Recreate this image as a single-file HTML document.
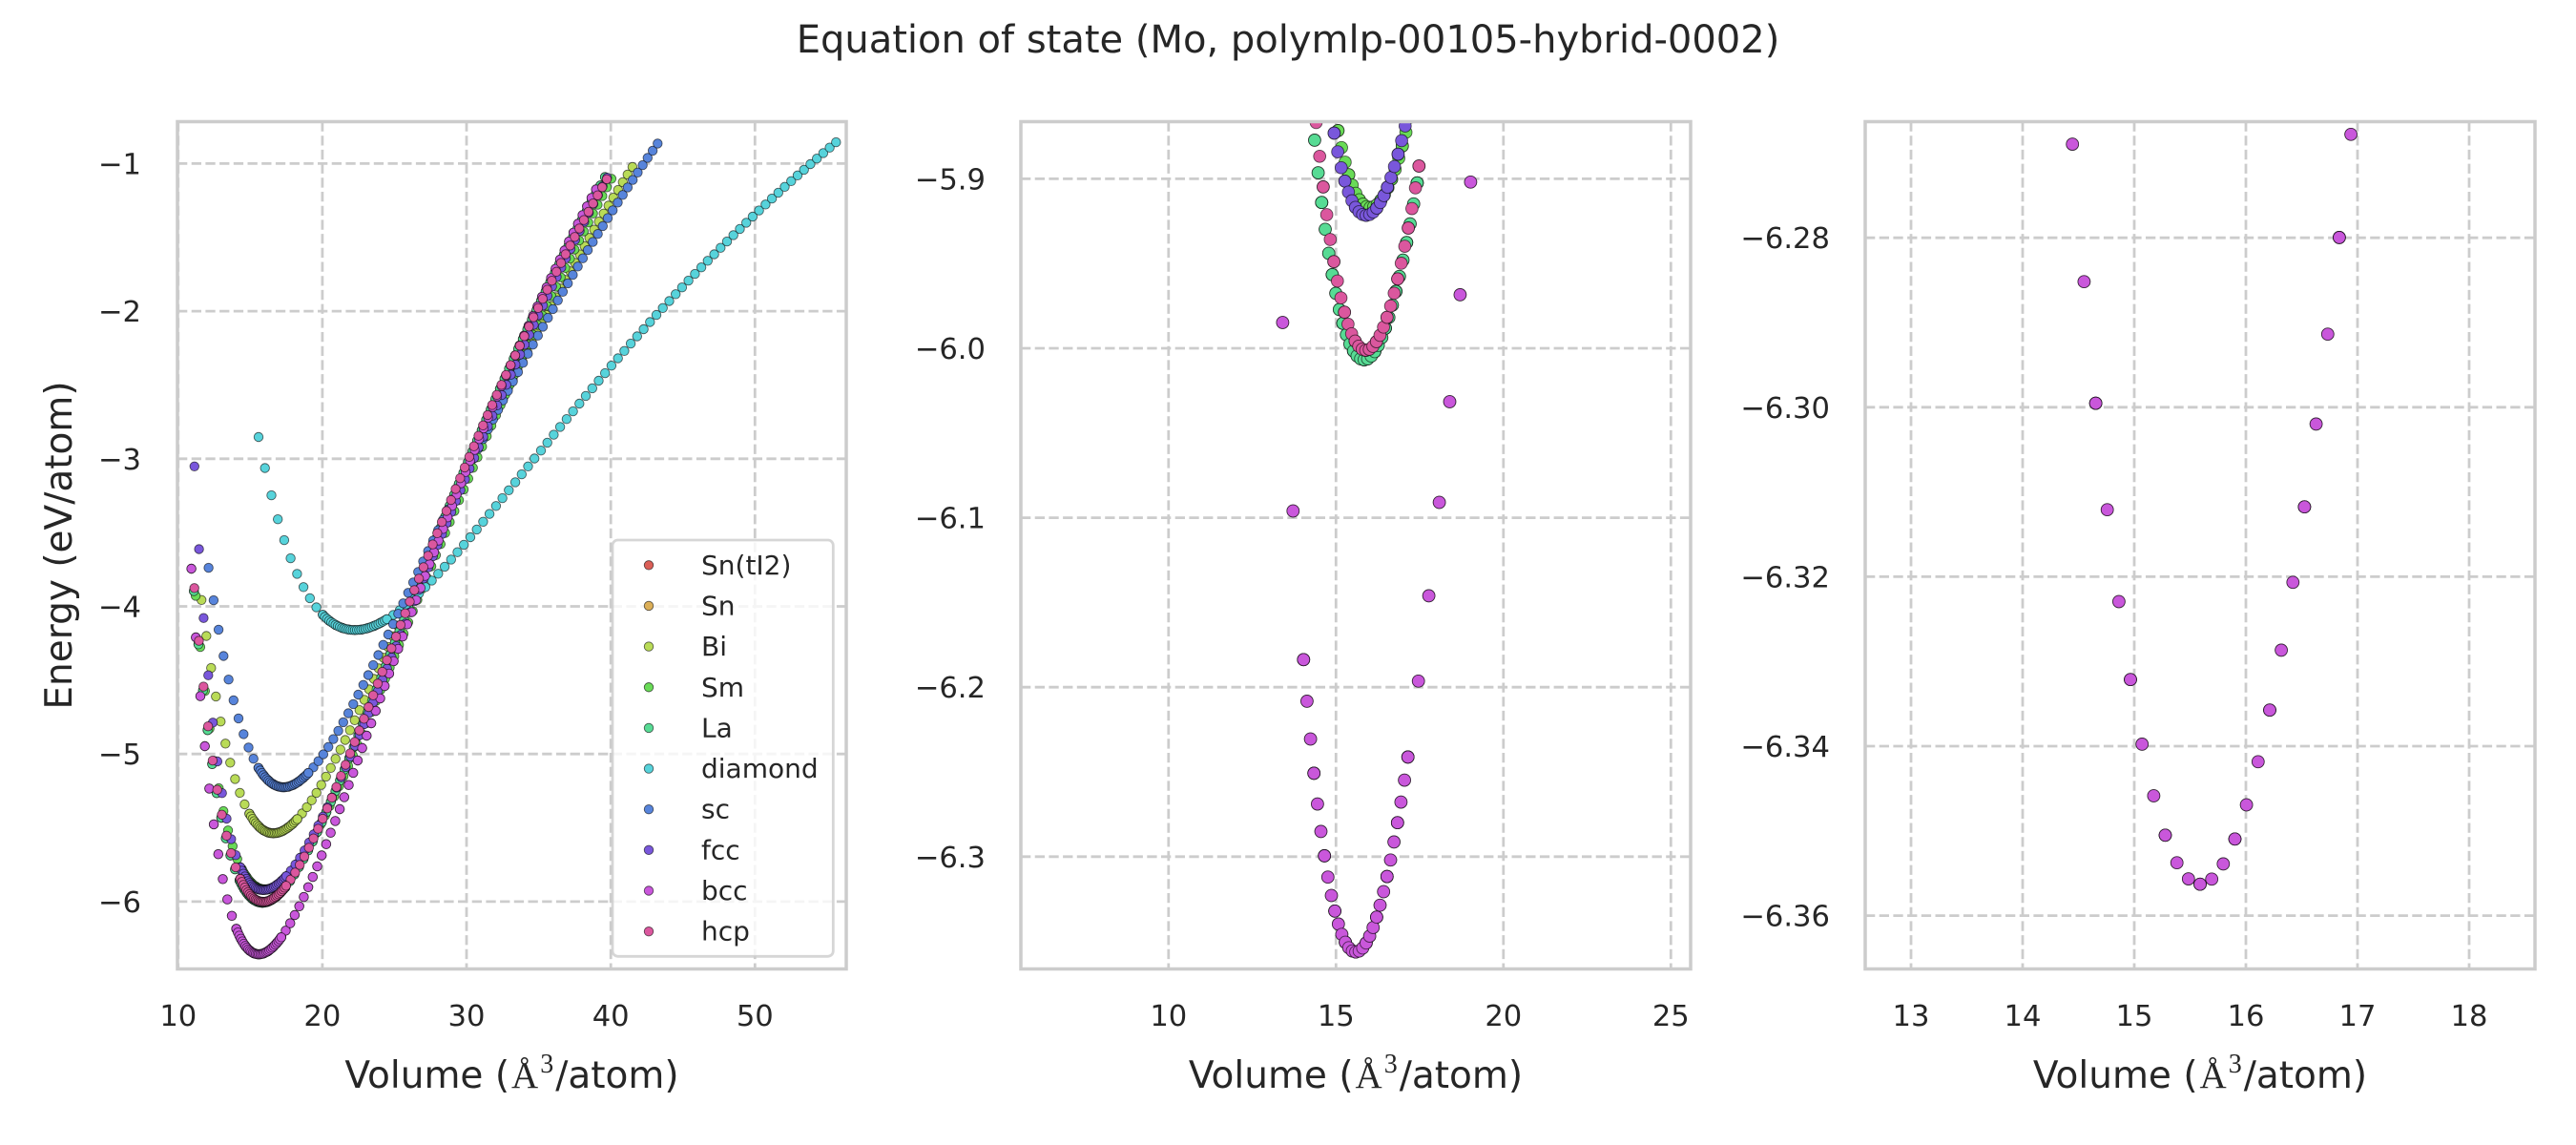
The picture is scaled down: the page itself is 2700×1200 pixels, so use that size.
<!DOCTYPE html>
<html>
<head>
<meta charset="utf-8">
<style>
html,body{margin:0;padding:0;background:#fff;}
svg{display:block;}
text{font-family:"DejaVu Sans","Liberation Sans",sans-serif;fill:#262626;}
</style>
</head>
<body>
<svg width="2700" height="1200" viewBox="0 0 2700 1200">
<rect x="0" y="0" width="2700" height="1200" fill="#fff"/>
<defs>
<clipPath id="c1"><rect x="186" y="127.5" width="701" height="888"/></clipPath>
<clipPath id="c2"><rect x="1070" y="127.5" width="702" height="888"/></clipPath>
<clipPath id="c3"><rect x="1955" y="127.5" width="702" height="888"/></clipPath>
</defs>

<!-- Title -->
<text x="1350" y="55" text-anchor="middle" font-size="40">Equation of state (Mo, polymlp-00105-hybrid-0002)</text>

<!-- ===== Panel 1 grid ===== -->
<g stroke="#cccccc" stroke-width="2.78" stroke-dasharray="10.3,4.4" fill="none">
<line x1="186.8" y1="127.5" x2="186.8" y2="1015.5"/>
<line x1="337.9" y1="127.5" x2="337.9" y2="1015.5"/>
<line x1="489.0" y1="127.5" x2="489.0" y2="1015.5"/>
<line x1="640.2" y1="127.5" x2="640.2" y2="1015.5"/>
<line x1="791.3" y1="127.5" x2="791.3" y2="1015.5"/>
<line x1="186" y1="171.4" x2="887" y2="171.4"/>
<line x1="186" y1="326.1" x2="887" y2="326.1"/>
<line x1="186" y1="480.8" x2="887" y2="480.8"/>
<line x1="186" y1="635.5" x2="887" y2="635.5"/>
<line x1="186" y1="790.2" x2="887" y2="790.2"/>
<line x1="186" y1="944.9" x2="887" y2="944.9"/>
</g>
<!-- ===== Panel 2 grid ===== -->
<g stroke="#cccccc" stroke-width="2.78" stroke-dasharray="10.3,4.4" fill="none">
<line x1="1224.8" y1="127.5" x2="1224.8" y2="1015.5"/>
<line x1="1400.3" y1="127.5" x2="1400.3" y2="1015.5"/>
<line x1="1575.8" y1="127.5" x2="1575.8" y2="1015.5"/>
<line x1="1751.3" y1="127.5" x2="1751.3" y2="1015.5"/>
<line x1="1070" y1="187.4" x2="1772" y2="187.4"/>
<line x1="1070" y1="365.0" x2="1772" y2="365.0"/>
<line x1="1070" y1="542.6" x2="1772" y2="542.6"/>
<line x1="1070" y1="720.2" x2="1772" y2="720.2"/>
<line x1="1070" y1="897.8" x2="1772" y2="897.8"/>
</g>
<!-- ===== Panel 3 grid ===== -->
<g stroke="#cccccc" stroke-width="2.78" stroke-dasharray="10.3,4.4" fill="none">
<line x1="2003.0" y1="127.5" x2="2003.0" y2="1015.5"/>
<line x1="2120.0" y1="127.5" x2="2120.0" y2="1015.5"/>
<line x1="2237.0" y1="127.5" x2="2237.0" y2="1015.5"/>
<line x1="2354.0" y1="127.5" x2="2354.0" y2="1015.5"/>
<line x1="2471.0" y1="127.5" x2="2471.0" y2="1015.5"/>
<line x1="2588.0" y1="127.5" x2="2588.0" y2="1015.5"/>
<line x1="1955" y1="249.2" x2="2657" y2="249.2"/>
<line x1="1955" y1="426.8" x2="2657" y2="426.8"/>
<line x1="1955" y1="604.4" x2="2657" y2="604.4"/>
<line x1="1955" y1="782.0" x2="2657" y2="782.0"/>
<line x1="1955" y1="959.6" x2="2657" y2="959.6"/>
</g>

<!-- Data points (generated) -->
<g id="g1" clip-path="url(#c1)" stroke="#000" stroke-opacity="0.6" stroke-width="0.9"></g>
<g id="g2" clip-path="url(#c2)" stroke="#000" stroke-opacity="0.6" stroke-width="0.9"></g>
<g id="g3" clip-path="url(#c3)" stroke="#000" stroke-opacity="0.6" stroke-width="0.9"></g>

<!-- Spines -->
<g fill="none" stroke="#cccccc" stroke-width="3.5">
<rect x="186" y="127.5" width="701" height="888"/>
<rect x="1070" y="127.5" width="702" height="888"/>
<rect x="1955" y="127.5" width="702" height="888"/>
</g>

<!-- Tick labels panel 1 -->
<g font-size="30.6">
<text x="186.8" y="1075" text-anchor="middle">10</text>
<text x="337.9" y="1075" text-anchor="middle">20</text>
<text x="489.0" y="1075" text-anchor="middle">30</text>
<text x="640.2" y="1075" text-anchor="middle">40</text>
<text x="791.3" y="1075" text-anchor="middle">50</text>
<text x="148" y="182.4" text-anchor="end">−1</text>
<text x="148" y="337.1" text-anchor="end">−2</text>
<text x="148" y="491.8" text-anchor="end">−3</text>
<text x="148" y="646.5" text-anchor="end">−4</text>
<text x="148" y="801.2" text-anchor="end">−5</text>
<text x="148" y="955.9" text-anchor="end">−6</text>
</g>
<!-- Tick labels panel 2 -->
<g font-size="30.6">
<text x="1224.8" y="1075" text-anchor="middle">10</text>
<text x="1400.3" y="1075" text-anchor="middle">15</text>
<text x="1575.8" y="1075" text-anchor="middle">20</text>
<text x="1751.3" y="1075" text-anchor="middle">25</text>
<text x="1033" y="198.4" text-anchor="end">−5.9</text>
<text x="1033" y="376.0" text-anchor="end">−6.0</text>
<text x="1033" y="553.6" text-anchor="end">−6.1</text>
<text x="1033" y="731.2" text-anchor="end">−6.2</text>
<text x="1033" y="908.8" text-anchor="end">−6.3</text>
</g>
<!-- Tick labels panel 3 -->
<g font-size="30.6">
<text x="2003.0" y="1075" text-anchor="middle">13</text>
<text x="2120.0" y="1075" text-anchor="middle">14</text>
<text x="2237.0" y="1075" text-anchor="middle">15</text>
<text x="2354.0" y="1075" text-anchor="middle">16</text>
<text x="2471.0" y="1075" text-anchor="middle">17</text>
<text x="2588.0" y="1075" text-anchor="middle">18</text>
<text x="1918" y="260.2" text-anchor="end">−6.28</text>
<text x="1918" y="437.8" text-anchor="end">−6.30</text>
<text x="1918" y="615.4" text-anchor="end">−6.32</text>
<text x="1918" y="793.0" text-anchor="end">−6.34</text>
<text x="1918" y="970.6" text-anchor="end">−6.36</text>
</g>

<!-- Axis labels -->
<text transform="translate(75,571.5) rotate(-90)" text-anchor="middle" font-size="39">Energy (eV/atom)</text>
<text x="536.5" y="1140" text-anchor="middle" font-size="39">Volume (<tspan font-family="Liberation Serif" dx="2">Å</tspan><tspan font-family="Liberation Serif" font-size="28" dy="-16" dx="2">3</tspan><tspan dy="16" dx="2">/atom)</tspan></text>
<text x="1421" y="1140" text-anchor="middle" font-size="39">Volume (<tspan font-family="Liberation Serif" dx="2">Å</tspan><tspan font-family="Liberation Serif" font-size="28" dy="-16" dx="2">3</tspan><tspan dy="16" dx="2">/atom)</tspan></text>
<text x="2306" y="1140" text-anchor="middle" font-size="39">Volume (<tspan font-family="Liberation Serif" dx="2">Å</tspan><tspan font-family="Liberation Serif" font-size="28" dy="-16" dx="2">3</tspan><tspan dy="16" dx="2">/atom)</tspan></text>

<!-- Legend -->
<rect x="642" y="566" width="231.3" height="436.3" rx="5.6" ry="5.6" fill="#fff" fill-opacity="0.8" stroke="#cccccc" stroke-opacity="0.8" stroke-width="2.78"/>
<g stroke="#000" stroke-opacity="0.6" stroke-width="0.9">
<circle cx="680" cy="592.3" r="4.75" fill="#db5f57"/>
<circle cx="680" cy="634.95" r="4.75" fill="#dbae57"/>
<circle cx="680" cy="677.6" r="4.75" fill="#b9db57"/>
<circle cx="680" cy="720.25" r="4.75" fill="#69db57"/>
<circle cx="680" cy="762.9" r="4.75" fill="#57db94"/>
<circle cx="680" cy="805.55" r="4.75" fill="#57d3db"/>
<circle cx="680" cy="848.2" r="4.75" fill="#5784db"/>
<circle cx="680" cy="890.85" r="4.75" fill="#7957db"/>
<circle cx="680" cy="933.5" r="4.75" fill="#c957db"/>
<circle cx="680" cy="976.15" r="4.75" fill="#db579e"/>
</g>
<g font-size="28">
<text x="735" y="601.8">Sn(tI2)</text>
<text x="735" y="644.45">Sn</text>
<text x="735" y="687.1">Bi</text>
<text x="735" y="729.75">Sm</text>
<text x="735" y="772.4">La</text>
<text x="735" y="815.05">diamond</text>
<text x="735" y="857.7">sc</text>
<text x="735" y="900.35">fcc</text>
<text x="735" y="943.0">bcc</text>
<text x="735" y="985.65">hcp</text>
</g>
</svg>

<script>
(function(){
  var bcc={V0:15.59,E0:-6.3563,B0:1.78,Bc:5.2,Be:4.9};
  var hcp={V0:15.89,E0:-6.0012,B0:1.65,Bc:4.0,Be:4.9};
  var La ={V0:15.84,E0:-6.0068,B0:1.58,Bc:4.3,Be:4.72};
  var fcc={V0:15.9,E0:-5.9216,B0:1.4,Bc:8.4,Be:4.34};
  var Sm ={V0:16.02,E0:-5.917,B0:1.4,Bc:4.7,Be:4.38};
  var Bi ={V0:16.6,E0:-5.537,B0:1.4,Bc:2.8,Be:4.76};
  var sc ={V0:17.3,E0:-5.225,B0:1.35,Bc:2.4,Be:4.9};
  var dia={V0:22.25,E0:-4.16,B0:0.8,Bc:3.3,Be:4.92};
  var series=[
    ['#db5f57',bcc],
    ['#dbae57',La],
    ['#b9db57',Bi],
    ['#69db57',Sm],
    ['#57db94',La],
    ['#57d3db',dia],
    ['#5784db',sc],
    ['#7957db',fcc],
    ['#c957db',bcc],
    ['#db579e',hcp]
  ];
  function en(p,V){
    var eta=Math.pow(p.V0/V,2/3),d=eta-1,bp=(V<p.V0)?p.Bc:p.Be;
    return p.E0+9*p.V0*p.B0/16*(d*d*d*bp+d*d*(6-4*eta));
  }
  var fr=[],k;
  for(k=0;k<=90;k++)fr.push(0.7+0.02*k);
  for(k=0;k<=30;k++)fr.push(0.9+k/150);
  var panels=[
    {id:'g1',L:186,R:887,T:127.5,B:1015.5,x0:9.95,x1:56.33,y0:-6.456,y1:-0.716,r:4.75},
    {id:'g2',L:1070,R:1772,T:127.5,B:1015.5,x0:5.59,x1:25.59,y0:-6.3663,y1:-5.8663,r:6.4},
    {id:'g3',L:1955,R:2657,T:127.5,B:1015.5,x0:12.59,x1:18.59,y0:-6.3663,y1:-6.2663,r:6.4}
  ];
  panels.forEach(function(pn){
    var h='';
    series.forEach(function(s){
      fr.forEach(function(f){
        var V=s[1].V0*f, e=en(s[1],V);
        var x=pn.L+(V-pn.x0)/(pn.x1-pn.x0)*(pn.R-pn.L);
        var y=pn.B-(e-pn.y0)/(pn.y1-pn.y0)*(pn.B-pn.T);
        if(x<pn.L-20||x>pn.R+20||y<pn.T-20||y>pn.B+20)return;
        h+='<circle cx="'+x.toFixed(1)+'" cy="'+y.toFixed(1)+'" r="'+pn.r+'" fill="'+s[0]+'"/>';
      });
    });
    document.getElementById(pn.id).innerHTML=h;
  });
})();
</script>
</body>
</html>
